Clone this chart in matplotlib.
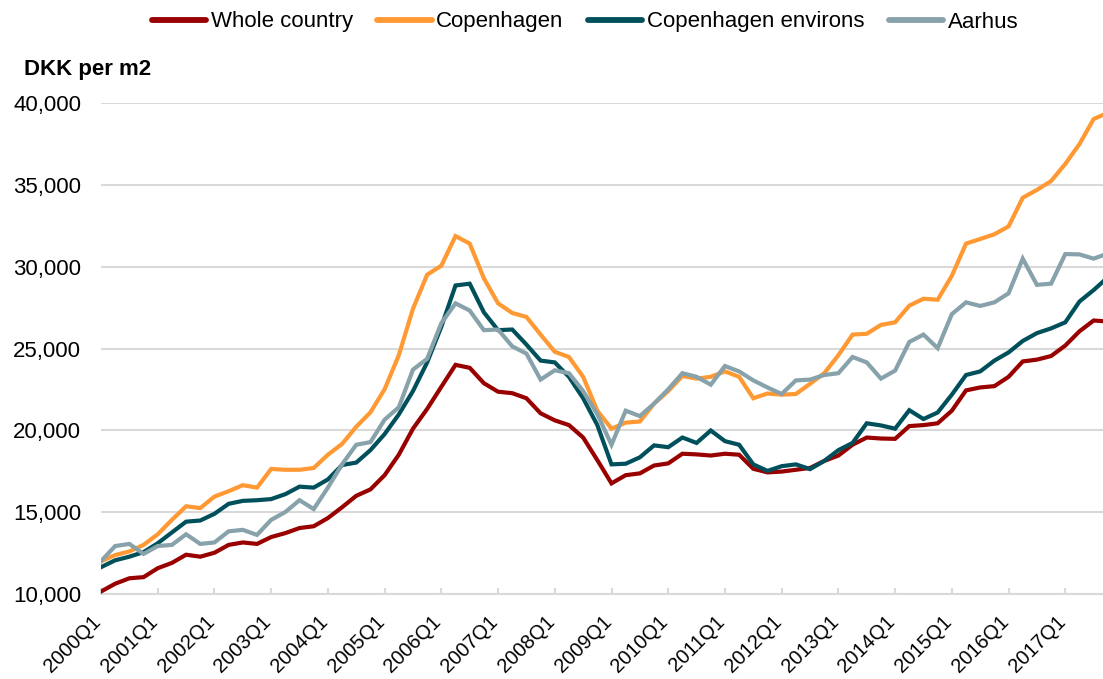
import matplotlib
matplotlib.use("Agg")
import matplotlib.pyplot as plt
import matplotlib.transforms as mtransforms
from matplotlib.ticker import FuncFormatter, MultipleLocator

plt.rcParams['font.family'] = ['Liberation Sans', 'DejaVu Sans']

quarters = [f"{y}Q{q}" for y in range(2000, 2018) for q in range(1, 5)]

whole_country = [10150, 10630, 10960, 11030, 11575, 11900, 12400, 12280, 12520, 13000,
                 13150, 13060, 13480, 13720, 14030, 14140, 14640, 15300, 16000, 16390,
                 17260, 18510, 20100, 21310, 22660, 24000, 23820, 22880, 22360, 22270,
                 21960, 21040, 20610, 20320, 19560, 18180, 16760, 17260, 17370, 17850,
                 17980, 18570, 18530, 18460, 18570, 18510, 17650, 17430, 17480, 17590,
                 17700, 18130, 18460, 19120, 19560, 19500, 19480, 20260, 20320, 20430,
                 21200, 22440, 22620, 22700, 23270, 24210, 24320, 24540, 25180, 26050,
                 26710, 26650]

copenhagen = [12000, 12380, 12600, 13000, 13650, 14530, 15360, 15250, 15950, 16280,
              16650, 16500, 17640, 17590, 17590, 17700, 18510, 19170, 20220, 21100,
              22510, 24590, 27430, 29510, 30060, 31870, 31410, 29290, 27760, 27170,
              26930, 25850, 24800, 24480, 23270, 21200, 20100, 20470, 20540, 21630,
              22400, 23320, 23160, 23270, 23600, 23270, 21960, 22250, 22180, 22220,
              22840, 23490, 24590, 25850, 25900, 26440, 26600, 27620, 28040, 27980,
              29440, 31410, 31690, 31980, 32460, 34210, 34690, 35230, 36280, 37490,
              39020, 39400]

copenhagen_environs = [11640, 12060, 12280, 12560, 13100, 13760, 14420, 14490, 14900, 15510,
                       15690, 15730, 15800, 16100, 16560, 16500, 17000, 17880, 18030, 18790,
                       19770, 20970, 22400, 24150, 26330, 28850, 28960, 27210, 26120, 26160,
                       25240, 24260, 24150, 23270, 21960, 20320, 17920, 17960, 18350, 19080,
                       18970, 19560, 19230, 19990, 19340, 19120, 17920, 17520, 17810, 17920,
                       17630, 18130, 18790, 19230, 20430, 20300, 20100, 21230, 20690, 21090,
                       22180, 23380, 23600, 24260, 24760, 25460, 25940, 26230, 26600, 27870,
                       28570, 29350]

aarhus = [12010, 12930, 13060, 12450, 12930, 13000, 13650, 13060, 13150, 13830,
          13920, 13610, 14530, 15010, 15730, 15190, 16500, 17920, 19120, 19280,
          20650, 21410, 23710, 24370, 26550, 27760, 27320, 26120, 26160, 25130,
          24690, 23100, 23670, 23490, 22400, 20980, 19120, 21200, 20870, 21630,
          22510, 23490, 23270, 22790, 23930, 23600, 23050, 22620, 22220, 23050,
          23100, 23380, 23490, 24480, 24150, 23160, 23650, 25400, 25850, 25020,
          27100, 27820, 27600, 27820, 28370, 30490, 28890, 28960, 30770, 30750,
          30490, 30800]

series = [("Whole country", whole_country, "#990000"),
          ("Copenhagen", copenhagen, "#FF9933"),
          ("Copenhagen environs", copenhagen_environs, "#00505C"),
          ("Aarhus", aarhus, "#87A2AA")]

fig = plt.figure(figsize=(11.03, 6.79), dpi=100)
ax = fig.add_axes([101/1103, 1-594/679, 1-101/1103, (594-103)/679])

x = list(range(len(quarters)))
handles = []
for name, vals, col in series:
    h, = ax.plot(x, vals, color=col, lw=3.0, label=name, solid_joinstyle='miter', zorder=3)
    handles.append(h)

ax.set_ylim(10000, 40000)
ax.set_xlim(0, 70.66)
ax.yaxis.set_major_locator(MultipleLocator(5000))
ax.yaxis.set_major_formatter(FuncFormatter(lambda v, p: f"{int(v):,}"))
ax.grid(axis='y', color='#D9D9D9', lw=1.5, zorder=0)
ax.set_axisbelow(True)
for s in ['left', 'right', 'top']:
    ax.spines[s].set_visible(False)
ax.spines['bottom'].set_color('#D9D9D9')
ax.spines['bottom'].set_linewidth(1.5)

tick_pos = list(range(0, len(quarters), 4))
ax.set_xticks(tick_pos)
ax.set_xticklabels([quarters[i] for i in tick_pos], rotation=45, ha='right', va='center',
                   rotation_mode='anchor', fontsize=14.5)
ax.tick_params(axis='x', direction='in', length=4.5, width=1.5, color='#D9D9D9', pad=18)
ax.tick_params(axis='y', length=0, labelsize=16, pad=14.4)
shift = mtransforms.ScaledTranslation(-3/100, 0, fig.dpi_scale_trans)
for lbl in ax.get_xticklabels():
    lbl.set_transform(lbl.get_transform() + shift)

fig.text(24/1103, 1-70/679, "DKK per m2", fontsize=16, fontweight='bold', va='center', ha='left')

leg = fig.legend(handles=handles, loc='center', bbox_to_anchor=(585/1103, 1-22/679), ncol=4,
                 frameon=False, fontsize=16, handlelength=2.45, handletextpad=0.2,
                 columnspacing=1.1, borderpad=0, borderaxespad=0)
for lh in leg.get_lines():
    lh.set_linewidth(4.2)
    lh.set_solid_capstyle('round')

fig.savefig("out.png", dpi=100)
